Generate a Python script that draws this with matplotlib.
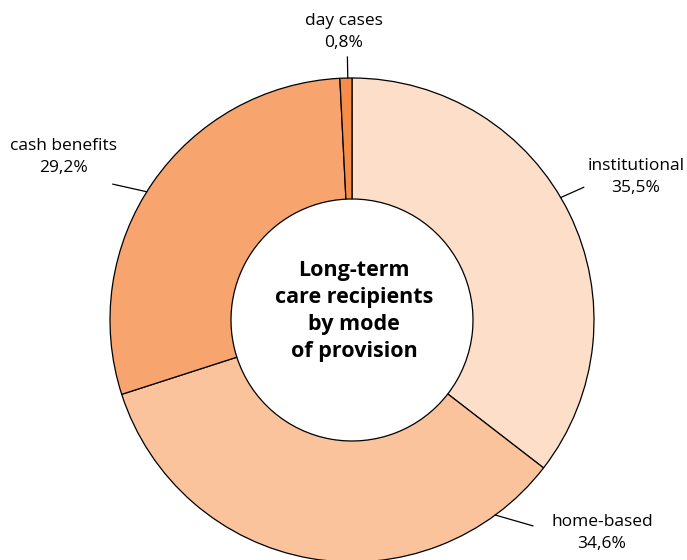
import numpy as np
import matplotlib.pyplot as plt

# data
labels = ["institutional", "home-based", "cash benefits", "day cases"]
shares = [35.5, 34.6, 29.2, 0.8]
share_text = ["35,5%", "34,6%", "29,2%", "0,8%"]
colors = ["#FDDEC8", "#FBC39B", "#F8A46F", "#F68D4A"]
title = "Long-term\ncare recipients\nby mode\nof provision"

# layout (pixels, y measured up from bottom of a 687x560 canvas)
W, H = 687, 560
cx, cy = 352, 240
r_out, r_in = 242, 121
# leader: (angle at rim, end angle, end radius), text centre
leaders = [(30.4, 29.8, 267), (-53.7, -48.7, 274), (148.0, 150.4, 275), (91.0, 91.0, 263)]
text_pos = [(636, 383), (602, 27), (64, 403), (344, 528)]

plt.rcParams['font.family'] = ['Open Sans', 'DejaVu Sans']

fig = plt.figure(figsize=(W / 100, H / 100), dpi=100)
ax = fig.add_axes([0, 0, 1, 1])

ax.pie(shares, colors=colors, startangle=90, counterclock=False,
       radius=r_out, center=(cx, cy), frame=True,
       wedgeprops=dict(width=r_out - r_in, edgecolor='black', linewidth=0.9))
ax.set_xlim(0, W)
ax.set_ylim(0, H)
ax.set_aspect('equal')
ax.axis('off')

for lab, txt, (a0, a1, r1), (tx, ty) in zip(labels, share_text, leaders, text_pos):
    x0 = cx + r_out * np.cos(np.radians(a0))
    y0 = cy + r_out * np.sin(np.radians(a0))
    x1 = cx + r1 * np.cos(np.radians(a1))
    y1 = cy + r1 * np.sin(np.radians(a1))
    ax.plot([x0, x1], [y0, y1], color='black', linewidth=0.9)
    ax.text(tx, ty, lab + "\n" + txt, ha='center', va='center',
            fontsize=12.5, linespacing=1.45, color='black')

ax.text(cx + 2, cy + 9, title, ha='center', va='center', fontsize=15.5,
        fontweight='bold', linespacing=1.38, color='black')

fig.savefig("out.png", dpi=100)
